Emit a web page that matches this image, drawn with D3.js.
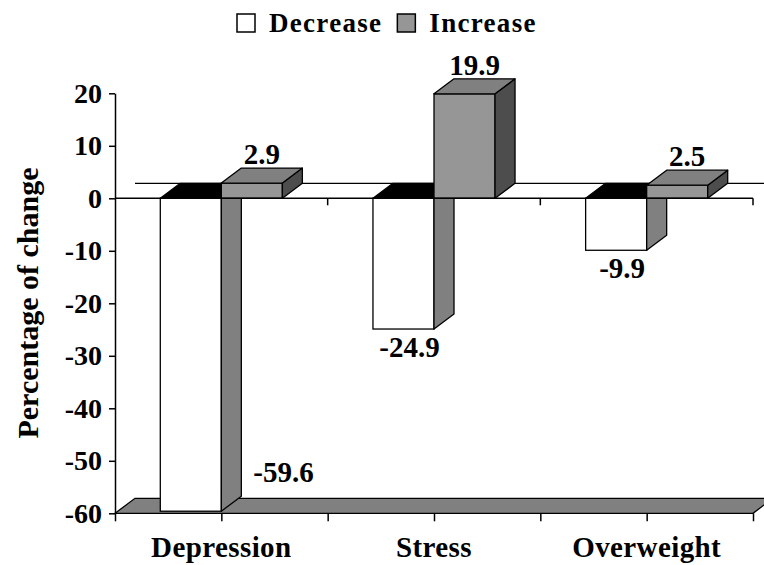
<!DOCTYPE html>
<html>
<head>
<meta charset="utf-8">
<script src="https://cdn.jsdelivr.net/npm/d3@7"></script>
<style>
  html, body { margin: 0; padding: 0; background: #fff; }
  svg text { font-family: 'Liberation Serif', 'Times New Roman', serif; font-weight: bold; fill: #000; }
</style>
</head>
<body>
<div id="chart"></div>
<script>
// chart data
const categories = ['Depression', 'Stress', 'Overweight'];
const series = ['Decrease', 'Increase'];
const decreaseValues = [-59.6, -24.9, -9.9];
const increaseValues = [2.9, 19.9, 2.5];
const yTickValues = [20, 10, 0, -10, -20, -30, -40, -50, -60];

const width = 764, height = 565;
const plot = { left: 115, right: 753, top: 93.3, bottom: 513.3 };
const DX = 20, DY = -15; // 3d depth offset

const colors = {
  Decrease: { front: '#ffffff', side: '#808080', top: '#000000' },
  Increase: { front: '#969696', side: '#4d4d4d', top: '#808080' },
  floor: '#808080'
};

const svg = d3.select('#chart').append('svg')
  .attr('width', width)
  .attr('height', height);

const x0 = d3.scaleBand().domain(categories).range([plot.left, plot.right]);
const y = d3.scaleLinear().domain([-60, 20]).range([plot.bottom, plot.top]);
const barW = x0.bandwidth() * 0.287;
const xs = d3.scaleBand().domain(series).range([-barW, barW]);

const pts = p => p.map(d => d.join(',')).join(' ');

// floor
const yFloor = y(-60);
svg.append('polygon')
  .attr('points', pts([[plot.left, yFloor], [plot.right, yFloor], [plot.right + DX, yFloor + DY], [plot.left + DX, yFloor + DY]]))
  .attr('fill', colors.floor)
  .attr('stroke', '#000')
  .attr('stroke-width', 1.3);

// back zero line
svg.append('line')
  .attr('x1', plot.left + DX).attr('x2', plot.right + DX)
  .attr('y1', y(0) + DY).attr('y2', y(0) + DY)
  .attr('stroke', '#000').attr('stroke-width', 1.3);

// bars
const rows = categories.map((c, i) => ({ cat: c, Decrease: decreaseValues[i], Increase: increaseValues[i] }));

function drawBar(g, L, R, v, col) {
  const y0 = y(0), yv = y(v);
  const top = Math.min(y0, yv), bot = Math.max(y0, yv);
  // front
  g.append('rect')
    .attr('x', L).attr('y', top)
    .attr('width', R - L).attr('height', bot - top)
    .attr('fill', col.front).attr('stroke', '#000').attr('stroke-width', 1.3);
  // side
  g.append('polygon')
    .attr('points', pts([[R, y0], [R + DX, y0 + DY], [R + DX, yv + DY], [R, yv]]))
    .attr('fill', col.side).attr('stroke', '#000').attr('stroke-width', 1.3)
    .attr('stroke-linejoin', 'round');
  // top face
  const yt = v >= 0 ? yv : y0;
  g.append('polygon')
    .attr('points', pts([[L, yt], [R, yt], [R + DX, yt + DY], [L + DX, yt + DY]]))
    .attr('fill', col.top).attr('stroke', '#000').attr('stroke-width', 1.3)
    .attr('stroke-linejoin', 'round');
}

rows.forEach(r => {
  const cx = x0(r.cat) + x0.bandwidth() / 2;
  const g = svg.append('g');
  series.forEach(s => {
    const L = cx + xs(s), R = L + xs.bandwidth();
    drawBar(g, L, R, r[s], colors[s]);
  });
});

// front zero line with ticks
svg.append('line')
  .attr('x1', plot.left).attr('x2', plot.right)
  .attr('y1', y(0)).attr('y2', y(0))
  .attr('stroke', '#000').attr('stroke-width', 1.5);
categories.forEach(c => {
  const xt = x0(c) + x0.bandwidth();
  svg.append('line')
    .attr('x1', xt).attr('x2', xt)
    .attr('y1', y(0)).attr('y2', y(0) + 7)
    .attr('stroke', '#000').attr('stroke-width', 1.5);
});

// value labels
rows.forEach(r => {
  const cx = x0(r.cat) + x0.bandwidth() / 2;
  series.forEach(s => {
    const v = r[s];
    const L = cx + xs(s), R = L + xs.bandwidth();
    let tx, ty, anchor = 'middle';
    if (v >= 0) {
      tx = (L + R) / 2 + DX / 2;
      ty = y(v) - 19;
    } else if (y(v) + 30 > plot.bottom) {
      tx = R + DX + 12;
      ty = y(v) - 29;
      anchor = 'start';
    } else {
      tx = (L + R) / 2 + 6;
      ty = y(v) + 28;
    }
    svg.append('text')
      .attr('x', tx).attr('y', ty)
      .attr('text-anchor', anchor)
      .style('font-size', '29px')
      .text(v.toFixed(1));
  });
});

// y axis
const yAxis = svg.append('g')
  .attr('transform', `translate(${plot.left},0)`)
  .call(d3.axisLeft(y).tickValues(yTickValues).tickSize(6).tickSizeOuter(0).tickPadding(7).tickFormat(d => String(d)));
yAxis.select('.domain').attr('stroke', '#000').attr('stroke-width', 1.5);
yAxis.selectAll('.tick line').attr('stroke', '#000').attr('stroke-width', 1.5);
yAxis.selectAll('.tick text')
  .style('font-size', '28px')
  .style('font-family', "'Liberation Serif', serif")
  .style('font-weight', 'bold')
  .attr('fill', '#000');

// bottom axis ticks (every half category)
const xTickScale = d3.scaleLinear().domain([0, categories.length]).range([plot.left, plot.right]);
const xAxis = svg.append('g')
  .attr('transform', `translate(0,${plot.bottom})`)
  .call(d3.axisBottom(xTickScale).tickValues(d3.range(0, categories.length + 0.01, 0.5)).tickSize(8).tickSizeOuter(0).tickFormat(''));
xAxis.select('.domain').remove();
xAxis.selectAll('.tick line').attr('stroke', '#000').attr('stroke-width', 1.5);

// category labels
svg.append('g').selectAll('text')
  .data(categories)
  .join('text')
  .attr('x', d => x0(d) + x0.bandwidth() / 2)
  .attr('y', 557)
  .attr('text-anchor', 'middle')
  .style('font-size', '29px')
  .style('letter-spacing', '0.4px')
  .text(d => d);

// y axis title
svg.append('text')
  .attr('transform', 'translate(38,303) rotate(-90)')
  .attr('text-anchor', 'middle')
  .style('font-size', '30px')
  .text('Percentage of change');

// legend
const legend = svg.append('g').attr('transform', 'translate(237,13)');
let lx = 0;
series.forEach(s => {
  const item = legend.append('g').attr('transform', `translate(${lx},0)`);
  item.append('rect')
    .attr('x', 0).attr('y', 1).attr('width', 18).attr('height', 18)
    .attr('fill', colors[s].front).attr('stroke', '#000').attr('stroke-width', 1.5);
  const t = item.append('text')
    .attr('x', 32).attr('y', 19)
    .style('font-size', '27px')
    .style('letter-spacing', '1.3px')
    .text(s);
  lx += 32 + t.node().getComputedTextLength() + 15;
});
</script>
</body>
</html>
